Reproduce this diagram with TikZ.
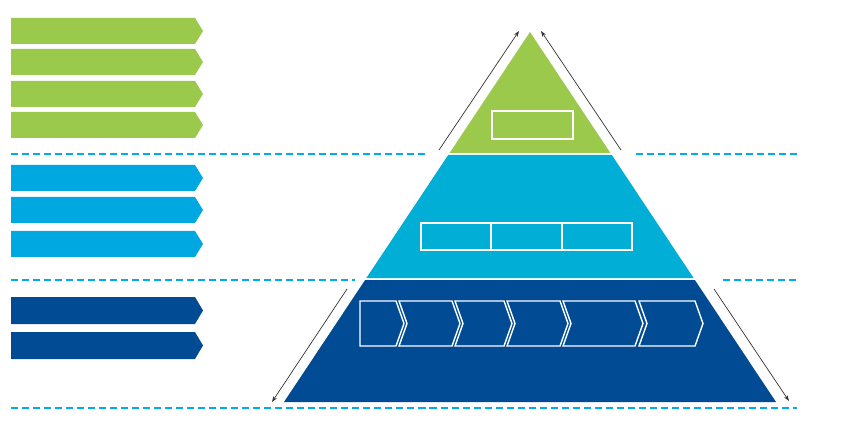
\documentclass[tikz,border=0pt]{standalone}
\usetikzlibrary{arrows.meta}
\definecolor{topgreen}{RGB}{155,201,75}
\definecolor{midblue}{RGB}{0,174,214}
\definecolor{tabblue}{RGB}{0,168,225}
\definecolor{lowblue}{RGB}{0,75,147}
\definecolor{dashblue}{RGB}{0,172,236}
\begin{document}
\begin{tikzpicture}[x=0.03cm,y=-0.03cm,
	divider/.style={dashblue,line width=1.1pt,dash pattern=on 6pt off 3.4pt},
	outline/.style={white,line width=1.2pt},
	climb/.style={black!80,line width=0.6pt,-{Stealth[length=5pt,width=3.5pt]}}]
	\useasboundingbox (0,0) rectangle (859,426);

	\foreach \y in {18,49,81,112}
	{
		\fill[topgreen] (11,\y) -- (195,\y) -- (203,{\y+13}) -- (195,{\y+26}) -- (11,{\y+26}) -- cycle;
	}
	\foreach \y in {165,197,231}
	{
		\fill[tabblue] (11,\y) -- (195,\y) -- (203,{\y+13}) -- (195,{\y+26}) -- (11,{\y+26}) -- cycle;
	}
	\foreach \y in {297,332}
	{
		\fill[lowblue] (11,\y) -- (195,\y) -- (203,{\y+13.5}) -- (195,{\y+27}) -- (11,{\y+27}) -- cycle;
	}

	\draw[divider] (11,154)--(425,154);
	\draw[divider] (636,154)--(797,154);
	\draw[divider] (11,280)--(355,280);
	\draw[divider] (723,280)--(797,280);
	\draw[divider] (11,408)--(797,408);

	\fill[topgreen] (530,32) -- (610.4,153) -- (449.6,153) -- cycle;
	\fill[midblue] (448.2,155) -- (611.8,155) -- (693.6,278) -- (366.4,278) -- cycle;
	\fill[lowblue] (365.1,280) -- (694.9,280) -- (776,402) -- (284,402) -- cycle;

	\draw[outline] (492,111) rectangle (573,139);
	\foreach \l/\r in {421/491,491/562,562/632}
	{
		\draw[outline] (\l,223) rectangle (\r,250);
	}

	\def\chtop{301}
	\def\chbot{346}
	\def\chmid{323.5}
	\draw[outline] (360,\chtop) -- (396,\chtop) -- (404,\chmid) -- (396,\chbot) -- (360,\chbot) -- cycle;
	\foreach \l/\r in {399/452,455/504,507/560,563/635,639/695}
	{
		\draw[outline] (\l,\chtop) -- (\r,\chtop) -- ({\r+8},\chmid) -- (\r,\chbot) -- (\l,\chbot) -- ({\l+8},\chmid) -- cycle;
	}

	\coordinate (upleftA) at (439,150);
	\coordinate (upleftB) at (519,31);
	\coordinate (uprightA) at (621,150);
	\coordinate (uprightB) at (541,31);
	\coordinate (downleftA) at (347,289);
	\coordinate (downleftB) at (272,402);
	\coordinate (downrightA) at (714,289);
	\coordinate (downrightB) at (789,401);
	\draw[climb] (upleftA) -- (upleftB);
	\draw[climb] (uprightA) -- (uprightB);
	\draw[climb] (downleftA) -- (downleftB);
	\draw[climb] (downrightA) -- (downrightB);
\end{tikzpicture}
\end{document}
